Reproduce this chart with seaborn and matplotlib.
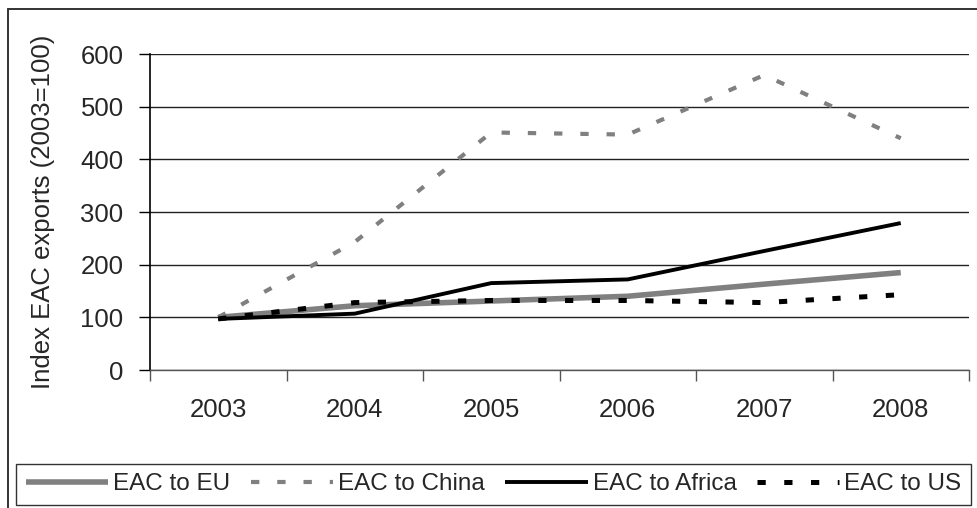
import matplotlib
matplotlib.use("Agg")
import matplotlib.pyplot as plt
from matplotlib.lines import Line2D
from matplotlib.ticker import FixedLocator, NullFormatter, FixedFormatter
import seaborn as sns
import pandas as pd

years = ["2003", "2004", "2005", "2006", "2007", "2008"]
eac_eu = [100, 122, 131, 140, 163, 185]
eac_china = [100, 243, 451, 447, 560, 440]
eac_africa = [97, 107, 165, 172, 226, 279]
eac_us = [97, 128, 132, 132, 128, 143]
series_names = ["EAC to EU", "EAC to China", "EAC to Africa", "EAC to US"]
y_ticks = [0, 100, 200, 300, 400, 500, 600]

sns.set_style("white")
plt.rcParams["font.family"] = ["Liberation Sans", "DejaVu Sans"]
FS = 18.5
LEG_FS = 17.5

fig = plt.figure(figsize=(9.77, 5.08), dpi=100)
W, H = 977, 508
ax = fig.add_axes([150 / W, 1 - 370 / H, (969 - 150) / W, (370 - 54) / H])

x = list(range(len(years)))
styles = [
    (eac_eu, dict(color="#808080", lw=4.0, ls="-", solid_capstyle="butt")),
    (eac_china, dict(color="#808080", lw=3.0, ls=(0, (2.0, 4.3)), dash_capstyle="butt")),
    (eac_africa, dict(color="black", lw=2.8, ls="-", solid_capstyle="butt")),
    (eac_us, dict(color="black", lw=3.6, ls=(0, (1.65, 3.7)), dash_capstyle="butt")),
]
for name, (vals, kw) in zip(series_names, styles):
    df = pd.DataFrame({"x": x, "y": vals})
    sns.lineplot(data=df, x="x", y="y", ax=ax, label=name, zorder=3, **kw)

ax.set_xlim(-0.5, len(years) - 0.5)
ax.set_ylim(0, 600)
ax.set_yticks(y_ticks)
ax.set_yticklabels([str(v) for v in y_ticks], fontsize=FS)
ax.yaxis.grid(True, color="#222222", lw=1.0)
ax.set_axisbelow(True)

# category boundaries carry the tick marks, centres carry the labels
ax.xaxis.set_major_locator(FixedLocator([i - 0.5 for i in range(len(years) + 1)]))
ax.xaxis.set_major_formatter(NullFormatter())
ax.xaxis.set_minor_locator(FixedLocator(x))
ax.xaxis.set_minor_formatter(FixedFormatter(years))
ax.tick_params(axis="x", which="major", direction="out", length=8, width=1, color="#555555", bottom=True)
ax.tick_params(axis="x", which="minor", length=0, pad=20, labelsize=FS)
ax.tick_params(axis="y", direction="out", length=8, width=1, color="black", left=True, pad=11)

for s in ["top", "right"]:
    ax.spines[s].set_visible(False)
ax.spines["left"].set_color("black")
ax.spines["left"].set_linewidth(1.2)
ax.spines["bottom"].set_color("#555555")
ax.spines["bottom"].set_linewidth(1.0)

ax.set_xlabel("")
ax.set_ylabel("Index EAC exports (2003=100)", fontsize=FS)
ax.yaxis.set_label_coords((55 - 150) / 819, 0.5)

ax.get_legend().remove()
handles, labels = ax.get_legend_handles_labels()
leg = fig.legend(handles, labels, loc="lower left", ncol=4, mode="expand",
                 bbox_to_anchor=(16 / W, 3 / H, 955 / W, 47 / H),
                 fontsize=LEG_FS, frameon=True, fancybox=False, shadow=False,
                 handlelength=3.4, handletextpad=0.2, borderpad=0.4,
                 borderaxespad=0.0, columnspacing=0.3)
leg.get_frame().set_edgecolor("black")
leg.get_frame().set_linewidth(1.0)

# outer chart border
fig.add_artist(Line2D([8 / W, 1.0], [1 - 9 / H, 1 - 9 / H], transform=fig.transFigure, color="#333333", lw=1.4))
fig.add_artist(Line2D([8 / W, 8 / W], [0.0, 1 - 9 / H], transform=fig.transFigure, color="#333333", lw=1.4))

fig.savefig("out.png", dpi=100)
